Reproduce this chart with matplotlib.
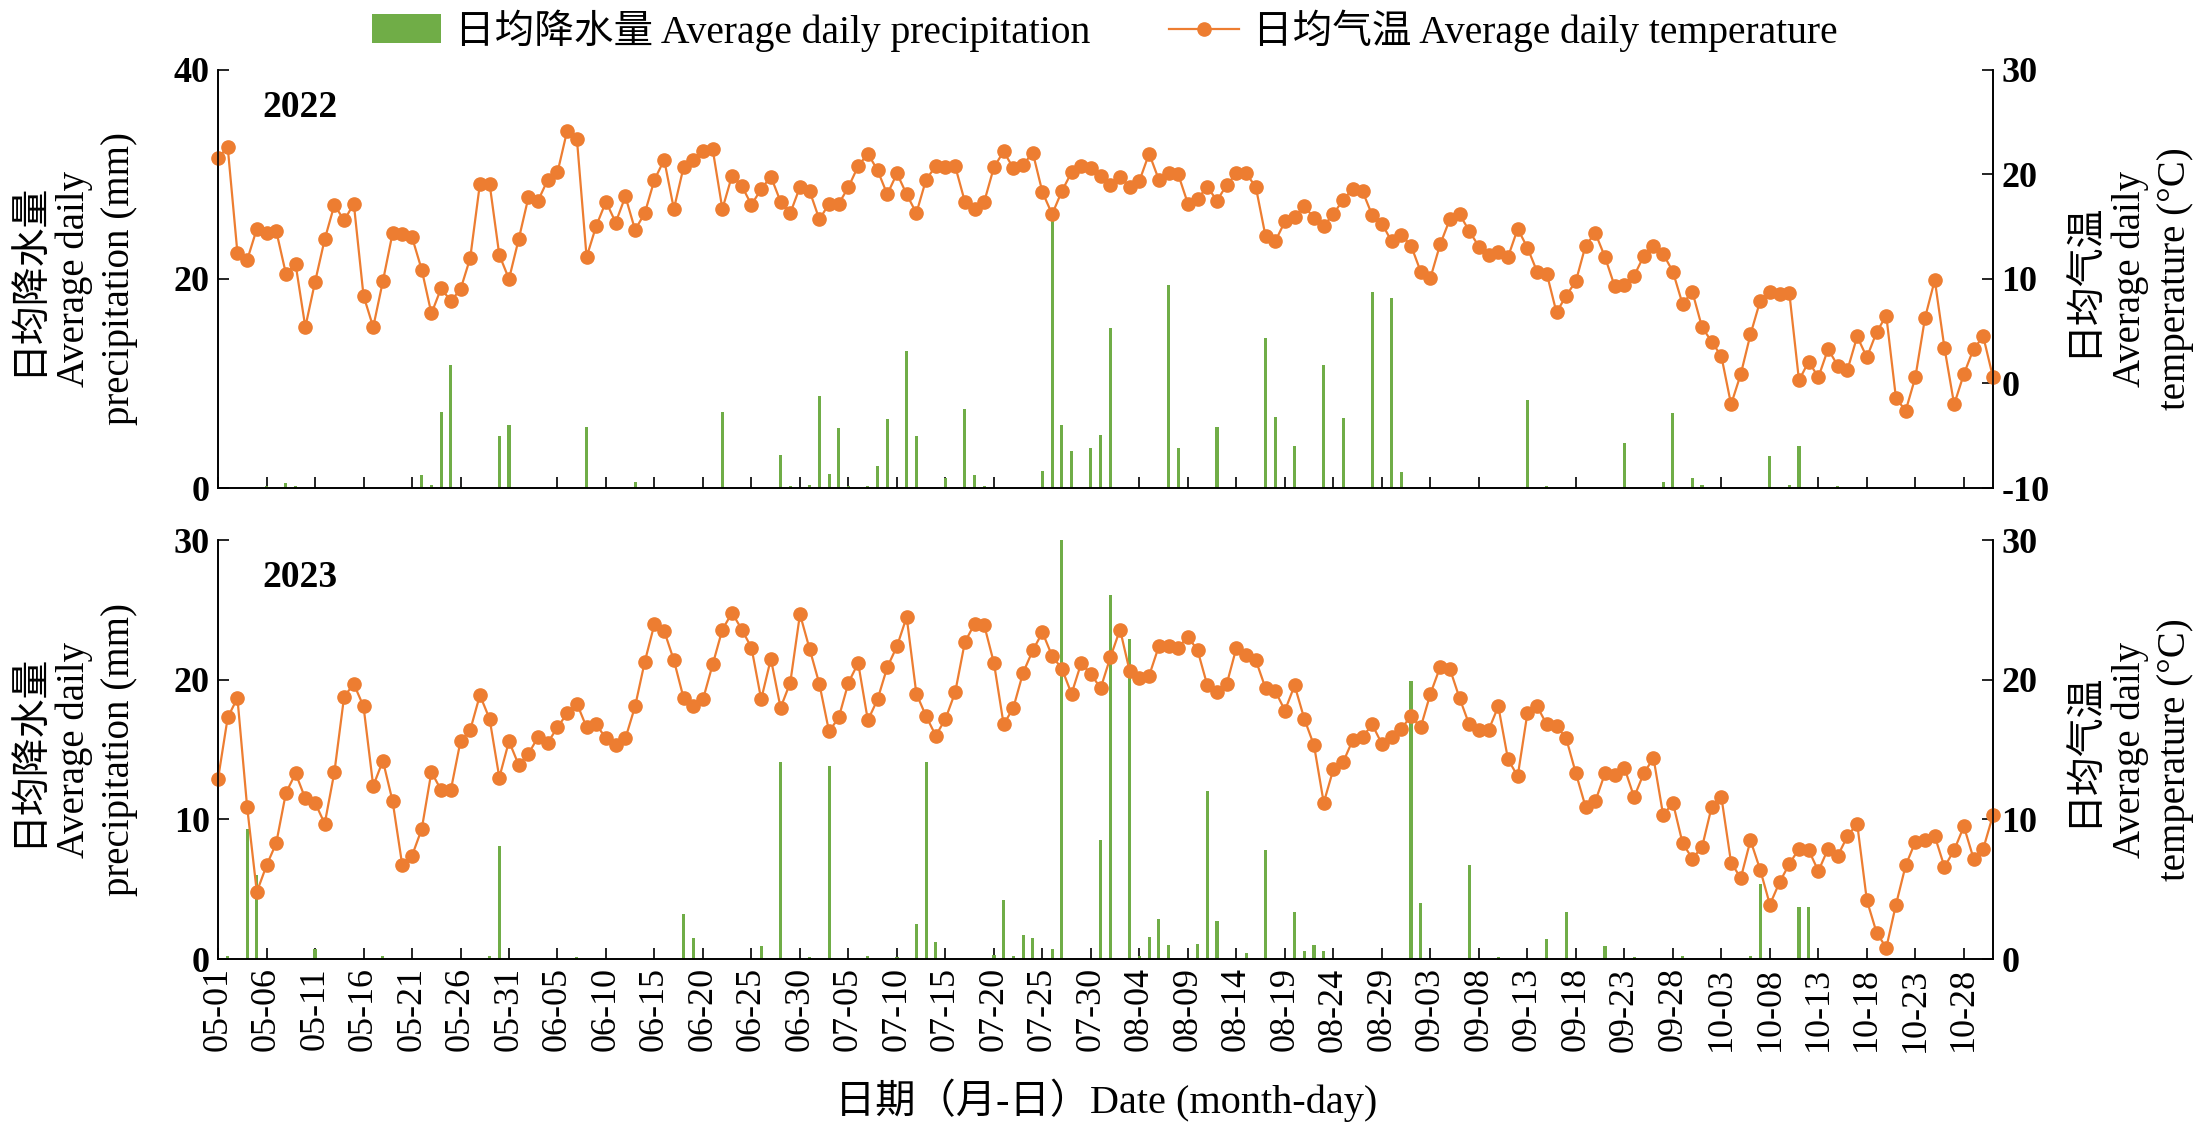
import numpy as np
import matplotlib
matplotlib.use('Agg')
import matplotlib.pyplot as plt
from matplotlib.patches import Patch
from matplotlib.lines import Line2D

# 拉丁字母用 Times 风格，中文回退到 CJK 字体
plt.rcParams['font.family'] = ['Liberation Serif', 'Noto Sans CJK SC']

GREEN = '#70AD47'
ORANGE = '#ED7D31'

tick_labels = ['05-01', '05-06', '05-11', '05-16', '05-21', '05-26', '05-31',
               '06-05', '06-10', '06-15', '06-20', '06-25', '06-30',
               '07-05', '07-10', '07-15', '07-20', '07-25', '07-30',
               '08-04', '08-09', '08-14', '08-19', '08-24', '08-29',
               '09-03', '09-08', '09-13', '09-18', '09-23', '09-28',
               '10-03', '10-08', '10-13', '10-18', '10-23', '10-28']

# 日均气温 (°C)，5月1日 - 10月31日
temp_2022 = [21.6, 22.6, 12.5, 11.8, 14.8, 14.4, 14.6, 10.5, 11.4, 5.4,
             9.7, 13.8, 17.1, 15.6, 17.2, 8.4, 5.4, 9.8, 14.4, 14.3,
             14.0, 10.9, 6.7, 9.1, 7.9, 9.0, 12.0, 19.1, 19.1, 12.3,
             10.0, 13.8, 17.8, 17.5, 19.5, 20.2, 24.2, 23.4, 12.1, 15.1,
             17.4, 15.4, 17.9, 14.7, 16.3, 19.5, 21.4, 16.7, 20.7, 21.4,
             22.2, 22.4, 16.7, 19.9, 18.9, 17.1, 18.6, 19.8, 17.4, 16.3,
             18.8, 18.4, 15.7, 17.2, 17.2, 18.8, 20.8, 22.0, 20.4, 18.1,
             20.1, 18.1, 16.3, 19.5, 20.8, 20.7, 20.8, 17.4, 16.7, 17.4,
             20.7, 22.2, 20.6, 20.9, 22.1, 18.3, 16.2, 18.4, 20.2, 20.8,
             20.6, 19.9, 19.0, 19.8, 18.8, 19.4, 22.0, 19.5, 20.1, 20.0,
             17.2, 17.7, 18.8, 17.5, 19.0, 20.1, 20.1, 18.8, 14.1, 13.6,
             15.5, 15.9, 17.0, 15.8, 15.1, 16.2, 17.6, 18.6, 18.4, 16.1,
             15.3, 13.6, 14.2, 13.2, 10.7, 10.1, 13.3, 15.7, 16.2, 14.6,
             13.1, 12.3, 12.6, 12.1, 14.8, 13.0, 10.7, 10.5, 6.8, 8.4,
             9.8, 13.2, 14.4, 12.1, 9.3, 9.4, 10.3, 12.2, 13.2, 12.4,
             10.7, 7.6, 8.8, 5.4, 4.0, 2.6, -2.0, 0.9, 4.7, 7.9,
             8.8, 8.6, 8.7, 0.3, 2.1, 0.6, 3.3, 1.7, 1.3, 4.5,
             2.5, 4.9, 6.5, -1.4, -2.6, 0.6, 6.3, 9.9, 3.4, -2.0,
             0.9, 3.3, 4.5, 0.6]

temp_2023 = [12.9, 17.3, 18.7, 10.9, 4.8, 6.7, 8.3, 11.9, 13.3, 11.5,
             11.2, 9.7, 13.4, 18.8, 19.7, 18.1, 12.4, 14.2, 11.3, 6.7,
             7.4, 9.3, 13.4, 12.1, 12.1, 15.6, 16.4, 18.9, 17.2, 13.0,
             15.6, 13.9, 14.7, 15.9, 15.5, 16.6, 17.6, 18.3, 16.6, 16.8,
             15.8, 15.3, 15.8, 18.1, 21.3, 24.0, 23.5, 21.4, 18.7, 18.1,
             18.6, 21.1, 23.6, 24.8, 23.6, 22.3, 18.6, 21.5, 18.0, 19.8,
             24.7, 22.2, 19.7, 16.3, 17.3, 19.8, 21.2, 17.1, 18.6, 20.9,
             22.4, 24.5, 19.0, 17.4, 16.0, 17.2, 19.1, 22.7, 24.0, 23.9,
             21.2, 16.8, 18.0, 20.5, 22.1, 23.4, 21.7, 20.8, 19.0, 21.2,
             20.4, 19.4, 21.6, 23.6, 20.6, 20.1, 20.3, 22.4, 22.4, 22.3,
             23.1, 22.1, 19.6, 19.1, 19.7, 22.3, 21.8, 21.4, 19.4, 19.2,
             17.8, 19.6, 17.2, 15.3, 11.2, 13.6, 14.1, 15.7, 15.9, 16.8,
             15.4, 15.9, 16.5, 17.4, 16.6, 19.0, 20.9, 20.8, 18.7, 16.8,
             16.4, 16.4, 18.1, 14.3, 13.1, 17.6, 18.1, 16.8, 16.7, 15.8,
             13.3, 10.9, 11.3, 13.3, 13.2, 13.7, 11.6, 13.3, 14.4, 10.3,
             11.2, 8.3, 7.2, 8.0, 10.9, 11.6, 6.9, 5.8, 8.5, 6.4,
             3.9, 5.5, 6.8, 7.9, 7.8, 6.3, 7.9, 7.4, 8.8, 9.7,
             4.2, 1.9, 0.8, 3.9, 6.7, 8.4, 8.5, 8.8, 6.6, 7.8,
             9.5, 7.2, 7.9, 10.3]

# 降水日 (从5月1日起的天数) 与日降水量 (mm)
rain_day_2022 = [5, 7, 8, 21, 22, 23, 24, 25, 29, 30, 38, 43, 52, 58, 59, 61, 62,
                 63, 64, 65, 67, 68, 69, 71, 72, 75, 77, 78, 79, 85, 86, 87, 88,
                 90, 91, 92, 98, 99, 103, 108, 109, 111, 114, 116, 119, 121, 122,
                 135, 137, 145, 149, 150, 152, 153, 160, 162, 163, 167]
rain_mm_2022 = [0.2, 0.5, 0.2, 1.2, 0.25, 7.3, 11.8, 0.1, 5.0, 6.0, 5.8, 0.6, 7.3,
                3.2, 0.2, 0.25, 8.8, 1.3, 5.7, 0.2, 0.15, 2.1, 6.6, 13.1, 5.0, 1.0,
                7.6, 1.2, 0.15, 1.6, 25.5, 6.0, 3.5, 3.8, 5.1, 15.3, 19.4, 3.8, 5.8,
                14.4, 6.8, 4.0, 11.8, 6.7, 18.8, 18.2, 1.5, 8.4, 0.15, 4.3, 0.6,
                7.2, 1.0, 0.25, 3.1, 0.25, 4.0, 0.15]

rain_day_2023 = [1, 3, 4, 10, 17, 28, 29, 37, 48, 49, 56, 58, 61, 63, 67, 70, 72,
                 73, 74, 80, 81, 82, 83, 84, 86, 87, 91, 92, 94, 95, 96, 97, 98,
                 101, 102, 103, 106, 108, 111, 112, 113, 114, 123, 124, 129, 132,
                 137, 139, 143, 146, 151, 158, 159, 163, 164]
rain_mm_2023 = [0.2, 9.3, 6.0, 0.7, 0.2, 0.2, 8.1, 0.15, 3.2, 1.5, 0.9, 14.1, 0.15,
                13.8, 0.25, 0.15, 2.5, 14.1, 1.2, 0.3, 4.2, 0.25, 1.7, 1.5, 0.7,
                30.0, 8.5, 26.1, 22.9, 0.25, 1.6, 2.9, 1.0, 1.1, 12.0, 2.7, 0.4,
                7.8, 3.4, 0.6, 1.0, 0.6, 19.9, 4.0, 6.7, 0.15, 1.4, 3.4, 0.9, 0.15,
                0.25, 0.25, 5.4, 3.7, 3.7]

n_days = len(temp_2022)
days = np.arange(n_days)


def gunluk(rain_days, rain_mm):
    arr = np.zeros(n_days)
    arr[rain_days] = rain_mm
    return arr


panels = [
    ('2022', temp_2022, gunluk(rain_day_2022, rain_mm_2022), (0, 40), [0, 20, 40],
     (-10, 30), [-10, 0, 10, 20, 30]),
    ('2023', temp_2023, gunluk(rain_day_2023, rain_mm_2023), (0, 30), [0, 10, 20, 30],
     (0, 30), [0, 10, 20, 30]),
]

fig = plt.figure(figsize=(22.09, 11.32), dpi=100)
rects = [[0.0987, 0.5689, 0.8035, 0.3693], [0.0987, 0.1528, 0.8035, 0.3700]]
TICK_FS = 26
LABEL_FS = 28

for i, (year, temp, rain, pl, pt, tl, tt) in enumerate(panels):
    ax = fig.add_axes(rects[i])
    ax.bar(days, rain, width=0.32, color=GREEN, zorder=2)
    ax.set_xlim(0, n_days - 1)
    ax.set_ylim(*pl)
    ax.set_yticks(pt)
    ax.set_yticklabels([str(v) for v in pt], fontweight='bold')

    ax2 = ax.twinx()
    ax2.plot(days, temp, color=ORANGE, lw=1.6, marker='o', ms=9.5, clip_on=False)
    ax2.set_ylim(*tl)
    ax2.set_yticks(tt)
    ax2.set_yticklabels([str(v) for v in tt], fontweight='bold')

    ax.set_xticks(days[::5])
    if i == 1:
        ax.set_xticklabels(tick_labels, rotation=90)
    else:
        ax.tick_params(axis='x', labelbottom=False)

    for a in (ax, ax2):
        a.spines['top'].set_visible(False)
        for s in a.spines.values():
            s.set_linewidth(1.2)
        a.tick_params(direction='in', length=8, width=1.2, labelsize=TICK_FS, pad=6)

    ax.text(0.025, 0.91, year, transform=ax.transAxes, fontsize=27,
            fontweight='bold', va='center', ha='left')

    yc = rects[i][1] + rects[i][3] / 2
    fig.text(0.0335, yc, '日均降水量\nAverage daily\nprecipitation (mm)', rotation=90,
             ha='center', va='center', multialignment='center', fontsize=LABEL_FS,
             linespacing=1.3)
    fig.text(0.9642, yc, '日均气温\nAverage daily\ntemperature (°C)', rotation=90,
             ha='center', va='center', multialignment='center', fontsize=LABEL_FS,
             linespacing=1.3)

fig.text(0.5007, 0.028, '日期（月-日）Date (month-day)', ha='center', va='center',
         fontsize=29)

handles = [Patch(facecolor=GREEN),
           Line2D([], [], color=ORANGE, lw=1.6, marker='o', ms=9.5)]
fig.legend(handles, ['日均降水量 Average daily precipitation', '日均气温 Average daily temperature'],
           loc='center', bbox_to_anchor=(0.5, 0.973), ncol=2, frameon=False,
           fontsize=28.5, handlelength=1.75, handleheight=0.75,
           handletextpad=0.35, columnspacing=2.0)

fig.savefig('out.png', dpi=100)
